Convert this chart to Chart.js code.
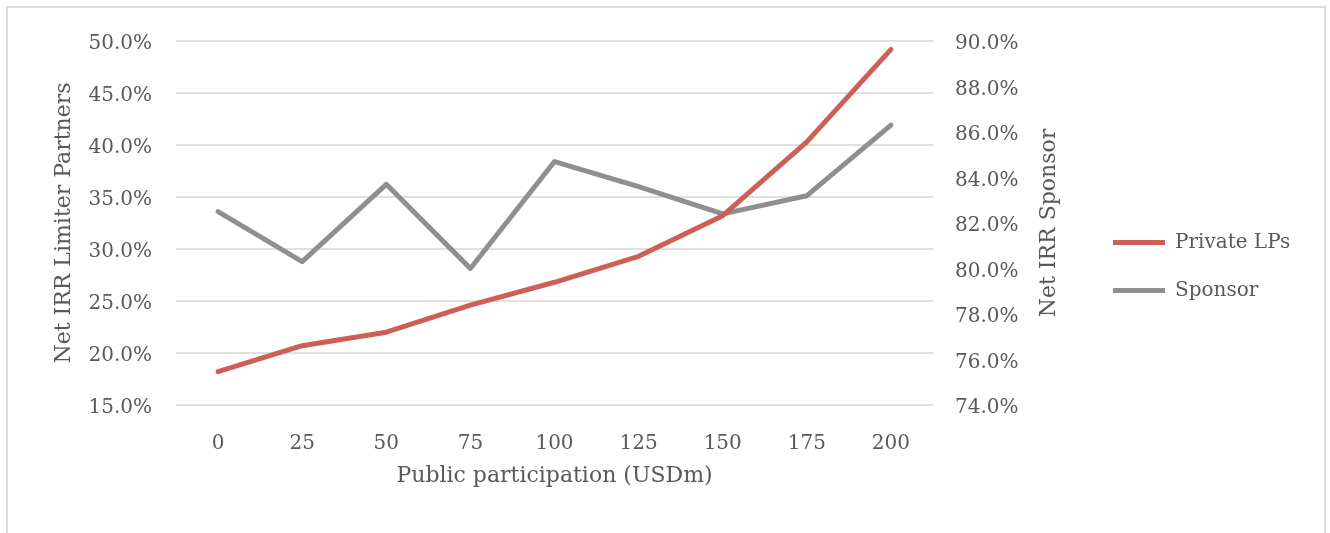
<!DOCTYPE html>
<html lang="en">

<head>
  <meta charset="UTF-8" />
  <title>Net IRR vs Public participation</title>
  <script src="https://cdn.jsdelivr.net/npm/chart.js@4.4.0/dist/chart.umd.min.js"></script>
  <style>
    html, body { margin: 0; padding: 0; background: #fff; overflow: hidden; }
    #wrap { position: relative; width: 1330px; height: 533px; }
    #frame { position: absolute; left: 6px; top: 6px; width: 1320px; height: 560px; border: 2px solid #dcdcdc; box-sizing: border-box; pointer-events: none; }
  </style>
</head>

<body>
  <div id="wrap">
    <canvas id="irrChart" width="1330" height="533"></canvas>
    <div id="frame"></div>
  </div>

  <script>
    // data
    const participation = ["0", "25", "50", "75", "100", "125", "150", "175", "200"];
    const privateLPs = [18.2, 20.7, 22.0, 24.6, 26.8, 29.3, 33.2, 40.3, 49.2];
    const sponsor = [82.5, 80.3, 83.7, 80.0, 84.7, 83.6, 82.4, 83.2, 86.3];

    const textColor = "#595959";
    const serif = "'DejaVu Serif', 'Liberation Serif', serif";
    Chart.defaults.font.family = serif;
    Chart.defaults.font.size = 20;
    Chart.defaults.color = textColor;

    // fixed legend width so it sits where it does in the original
    const legendWidth = {
      id: "legendWidth",
      afterInit(chart) {
        const lg = chart.legend;
        const origFit = lg.fit;
        lg.fit = function () {
          origFit.call(this);
          this.width = 245;
        };
      }
    };

    // right axis title reads bottom-to-top like the left one
    const rightTitle = {
      id: "rightTitle",
      afterDraw(chart) {
        const s = chart.scales.y2;
        const area = chart.chartArea;
        const ctx = chart.ctx;
        ctx.save();
        ctx.translate(s.right - 36, (area.top + area.bottom) / 2);
        ctx.rotate(-Math.PI / 2);
        ctx.font = "22px " + serif;
        ctx.fillStyle = textColor;
        ctx.textAlign = "center";
        ctx.textBaseline = "middle";
        ctx.fillText("Net IRR Sponsor", 0, 0);
        ctx.restore();
      }
    };

    const pct = (v) => v.toFixed(1) + "%";

    const irrChart = new Chart(document.getElementById("irrChart").getContext("2d"), {
      type: "line",
      data: {
        labels: participation,
        datasets: [
          {
            label: "Private LPs",
            data: privateLPs,
            yAxisID: "y",
            borderColor: "#cd5f59",
            backgroundColor: "#cd5f59",
            borderWidth: 5,
            borderCapStyle: "round",
            borderJoinStyle: "round",
            pointRadius: 0,
            tension: 0,
          },
          {
            label: "Sponsor",
            data: sponsor,
            yAxisID: "y2",
            borderColor: "#8f8f8f",
            backgroundColor: "#8f8f8f",
            borderWidth: 5,
            borderCapStyle: "round",
            borderJoinStyle: "round",
            pointRadius: 0,
            tension: 0,
          },
        ],
      },
      options: {
        responsive: false,
        animation: false,
        layout: { padding: { left: 47, right: 0, top: 0, bottom: 0 } },
        plugins: {
          title: {
            display: true,
            text: "",
            font: { size: 10, lineHeight: 1 },
            padding: { top: 31, bottom: 0 },
          },
          tooltip: { enabled: false },
          legend: {
            position: "right",
            labels: {
              boxWidth: 52,
              boxHeight: 5,
              padding: 28,
              color: textColor,
              font: { size: 20 },
              generateLabels: (chart) =>
                Chart.defaults.plugins.legend.labels.generateLabels(chart).map((l) => ({
                  ...l,
                  lineWidth: 0,
                  fillStyle: l.strokeStyle,
                })),
            },
          },
        },
        scales: {
          x: {
            offset: true,
            grid: { display: false },
            border: { display: false },
            ticks: { padding: 19, color: textColor },
            title: {
              display: true,
              text: "Public participation (USDm)",
              color: textColor,
              font: { size: 22 },
              padding: { top: 4, bottom: 44 },
            },
            afterFit(scale) { scale.height = 128; },
          },
          y: {
            position: "left",
            min: 15,
            max: 50,
            ticks: { stepSize: 5, padding: 24, labelOffset: 3, color: textColor, callback: pct },
            grid: { color: "#e0e0e0", lineWidth: 2, drawTicks: false },
            border: { display: false },
            title: {
              display: true,
              text: "Net IRR Limiter Partners",
              color: textColor,
              font: { size: 22 },
              padding: { top: 4, bottom: 4 },
            },
            afterFit(scale) { scale.width = 129; },
          },
          y2: {
            position: "right",
            min: 74,
            max: 90,
            ticks: { stepSize: 2, padding: 22, labelOffset: 3, color: textColor, callback: pct },
            grid: { drawOnChartArea: false, drawTicks: false },
            border: { display: false },
            title: { display: false },
            afterFit(scale) { scale.width = 152; },
          },
        },
      },
      plugins: [legendWidth, rightTitle],
    });
  </script>
</body>

</html>
